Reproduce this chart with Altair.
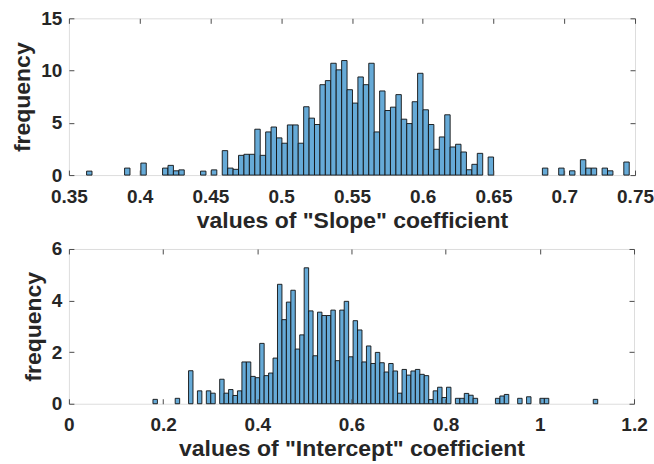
import altair as alt
import pandas as pd

# ---- data (probability-density style histogram, 100 bins each) ----
slope_bin_start = 0.3625
slope_bin_width = 0.003834
slope_heights = [
    0.38, 0, 0, 0, 0, 0, 0, 0.67, 0, 0,
    1.15, 0, 0, 0, 0.67, 0.93, 0.41, 0.5, 0, 0,
    0, 0.38, 0, 0.5, 0, 2.34, 0.67, 0.55, 1.89, 1.99,
    1.99, 4.39, 1.89, 4.13, 4.6, 3.56, 3.05, 4.8, 4.8, 3.05,
    6.54, 5.45, 4.84, 8.65, 9.04, 10.7, 10.07, 10.96, 8.17, 6.89,
    9.39, 8.65, 10.7, 4.13, 8.05, 6.18, 6.5, 7.7, 5.35, 4.93,
    7.02, 9.74, 6.25, 4.84, 2.47, 3.65, 5.77, 2.69, 2.95, 2.21,
    0.51, 1.03, 2.08, 0, 1.73, 0, 0, 0, 0, 0,
    0, 0, 0, 0, 0.67, 0, 0, 0.67, 0, 0.41,
    0, 1.47, 0.67, 0.67, 0, 0.67, 0.41, 0, 0, 1.25,
]

intercept_bin_start = 0.1785
intercept_bin_width = 0.009444
intercept_heights = [
    0.17, 0, 0, 0, 0, 0.21, 0, 0, 1.28, 0,
    0.5, 0, 0.5, 0.41, 0, 0.95, 0.41, 0.55, 0.32, 0.5,
    1.62, 1.62, 1.06, 1.01, 2.34, 1.09, 1.19, 1.77, 4.63, 3.26,
    3.94, 4.4, 2.12, 2.67, 5.27, 3.6, 1.86, 3.55, 3.42, 3.42,
    3.63, 1.67, 3.63, 3.97, 1.82, 3.22, 2.86, 1.62, 2.24, 1.56,
    1.99, 1.59, 1.23, 1.56, 1.27, 0.41, 1.33, 1.11, 1.27, 1.33,
    1.14, 1.09, 0.16, 0.5, 0.64, 0.24, 0.64, 0, 0.21, 0.21,
    0.4, 0.33, 0.21, 0, 0, 0, 0, 0.21, 0.3, 0.36,
    0, 0, 0.21, 0, 0.27, 0, 0, 0.21, 0.21, 0,
    0, 0, 0, 0, 0, 0, 0, 0, 0, 0.17,
]

slope_xticks = [0.35, 0.4, 0.45, 0.5, 0.55, 0.6, 0.65, 0.7, 0.75]
slope_yticks = [0, 5, 10, 15]
intercept_xticks = [0, 0.2, 0.4, 0.6, 0.8, 1.0, 1.2]
intercept_yticks = [0, 2, 4, 6]

FONT = "Liberation Sans"
TXT = "#262626"
FRAME = "#4a4a4a"
FILL = "#66AAD7"


def frame_df(start, width, heights):
    rows = []
    for i, h in enumerate(heights):
        if h > 0:
            lo = start + i * width
            rows.append({"lo": lo, "hi": lo + width, "h": h, "base": 0})
    return pd.DataFrame(rows)


def panel(df, xdom, ydom, xticks, yticks, xtitle, w, h):
    xs = alt.Scale(domain=xdom, nice=False, zero=False)
    ys = alt.Scale(domain=ydom, nice=False, zero=False)
    common = dict(tickSize=5, offset=-5, domain=False, grid=False,
                  tickColor=FRAME, tickWidth=1, zindex=1)
    bottom = alt.Axis(orient="bottom", values=xticks, format="~g",
                      labelFont=FONT, labelFontSize=19, labelFontWeight="bold",
                      labelColor=TXT, labelPadding=12, labelFlush=False,
                      labelOverlap=False,
                      titleFont=FONT, titleFontSize=23, titleFontWeight="bold",
                      titleColor=TXT, titlePadding=3, **common)
    left = alt.Axis(orient="left", values=yticks, format="~g",
                    labelFont=FONT, labelFontSize=19, labelFontWeight="bold",
                    labelColor=TXT, labelPadding=7, labelOverlap=False,
                    titleFont=FONT, titleFontSize=23, titleFontWeight="bold",
                    titleColor=TXT, titlePadding=6, **common)
    top = alt.Axis(orient="top", values=xticks, labels=False, title=None, **common)
    right = alt.Axis(orient="right", values=yticks, labels=False, title=None, **common)

    bars = alt.Chart(df).mark_bar(fill=FILL, stroke="#111111", strokeWidth=0.9).encode(
        x=alt.X("lo:Q", scale=xs, axis=bottom, title=xtitle),
        x2="hi:Q",
        y=alt.Y("h:Q", scale=ys, axis=left, title="frequency"),
        y2="base:Q",
    )
    ghost = alt.Chart(df).mark_point(opacity=0).encode(
        x=alt.X("lo:Q", scale=xs, axis=top),
        y=alt.Y("h:Q", scale=ys, axis=right),
    )
    return alt.layer(bars, ghost).resolve_axis(x="independent", y="independent").properties(
        width=w, height=h
    )


top_chart = panel(frame_df(slope_bin_start, slope_bin_width, slope_heights),
                  [0.35, 0.75], [0, 15], slope_xticks, slope_yticks,
                  'values of "Slope" coefficient', 567, 157)
bottom_chart = panel(frame_df(intercept_bin_start, intercept_bin_width, intercept_heights),
                     [0, 1.2], [0, 6], intercept_xticks, intercept_yticks,
                     'values of "Intercept" coefficient', 566, 155)

chart = alt.vconcat(top_chart, bottom_chart, spacing=6).configure_view(
    stroke=FRAME, strokeWidth=1
).configure(
    background="white",
    padding={"left": 11, "top": 8, "right": 0, "bottom": 0},
)

chart.save("out.html", embed_options={"renderer": "svg", "actions": False})
